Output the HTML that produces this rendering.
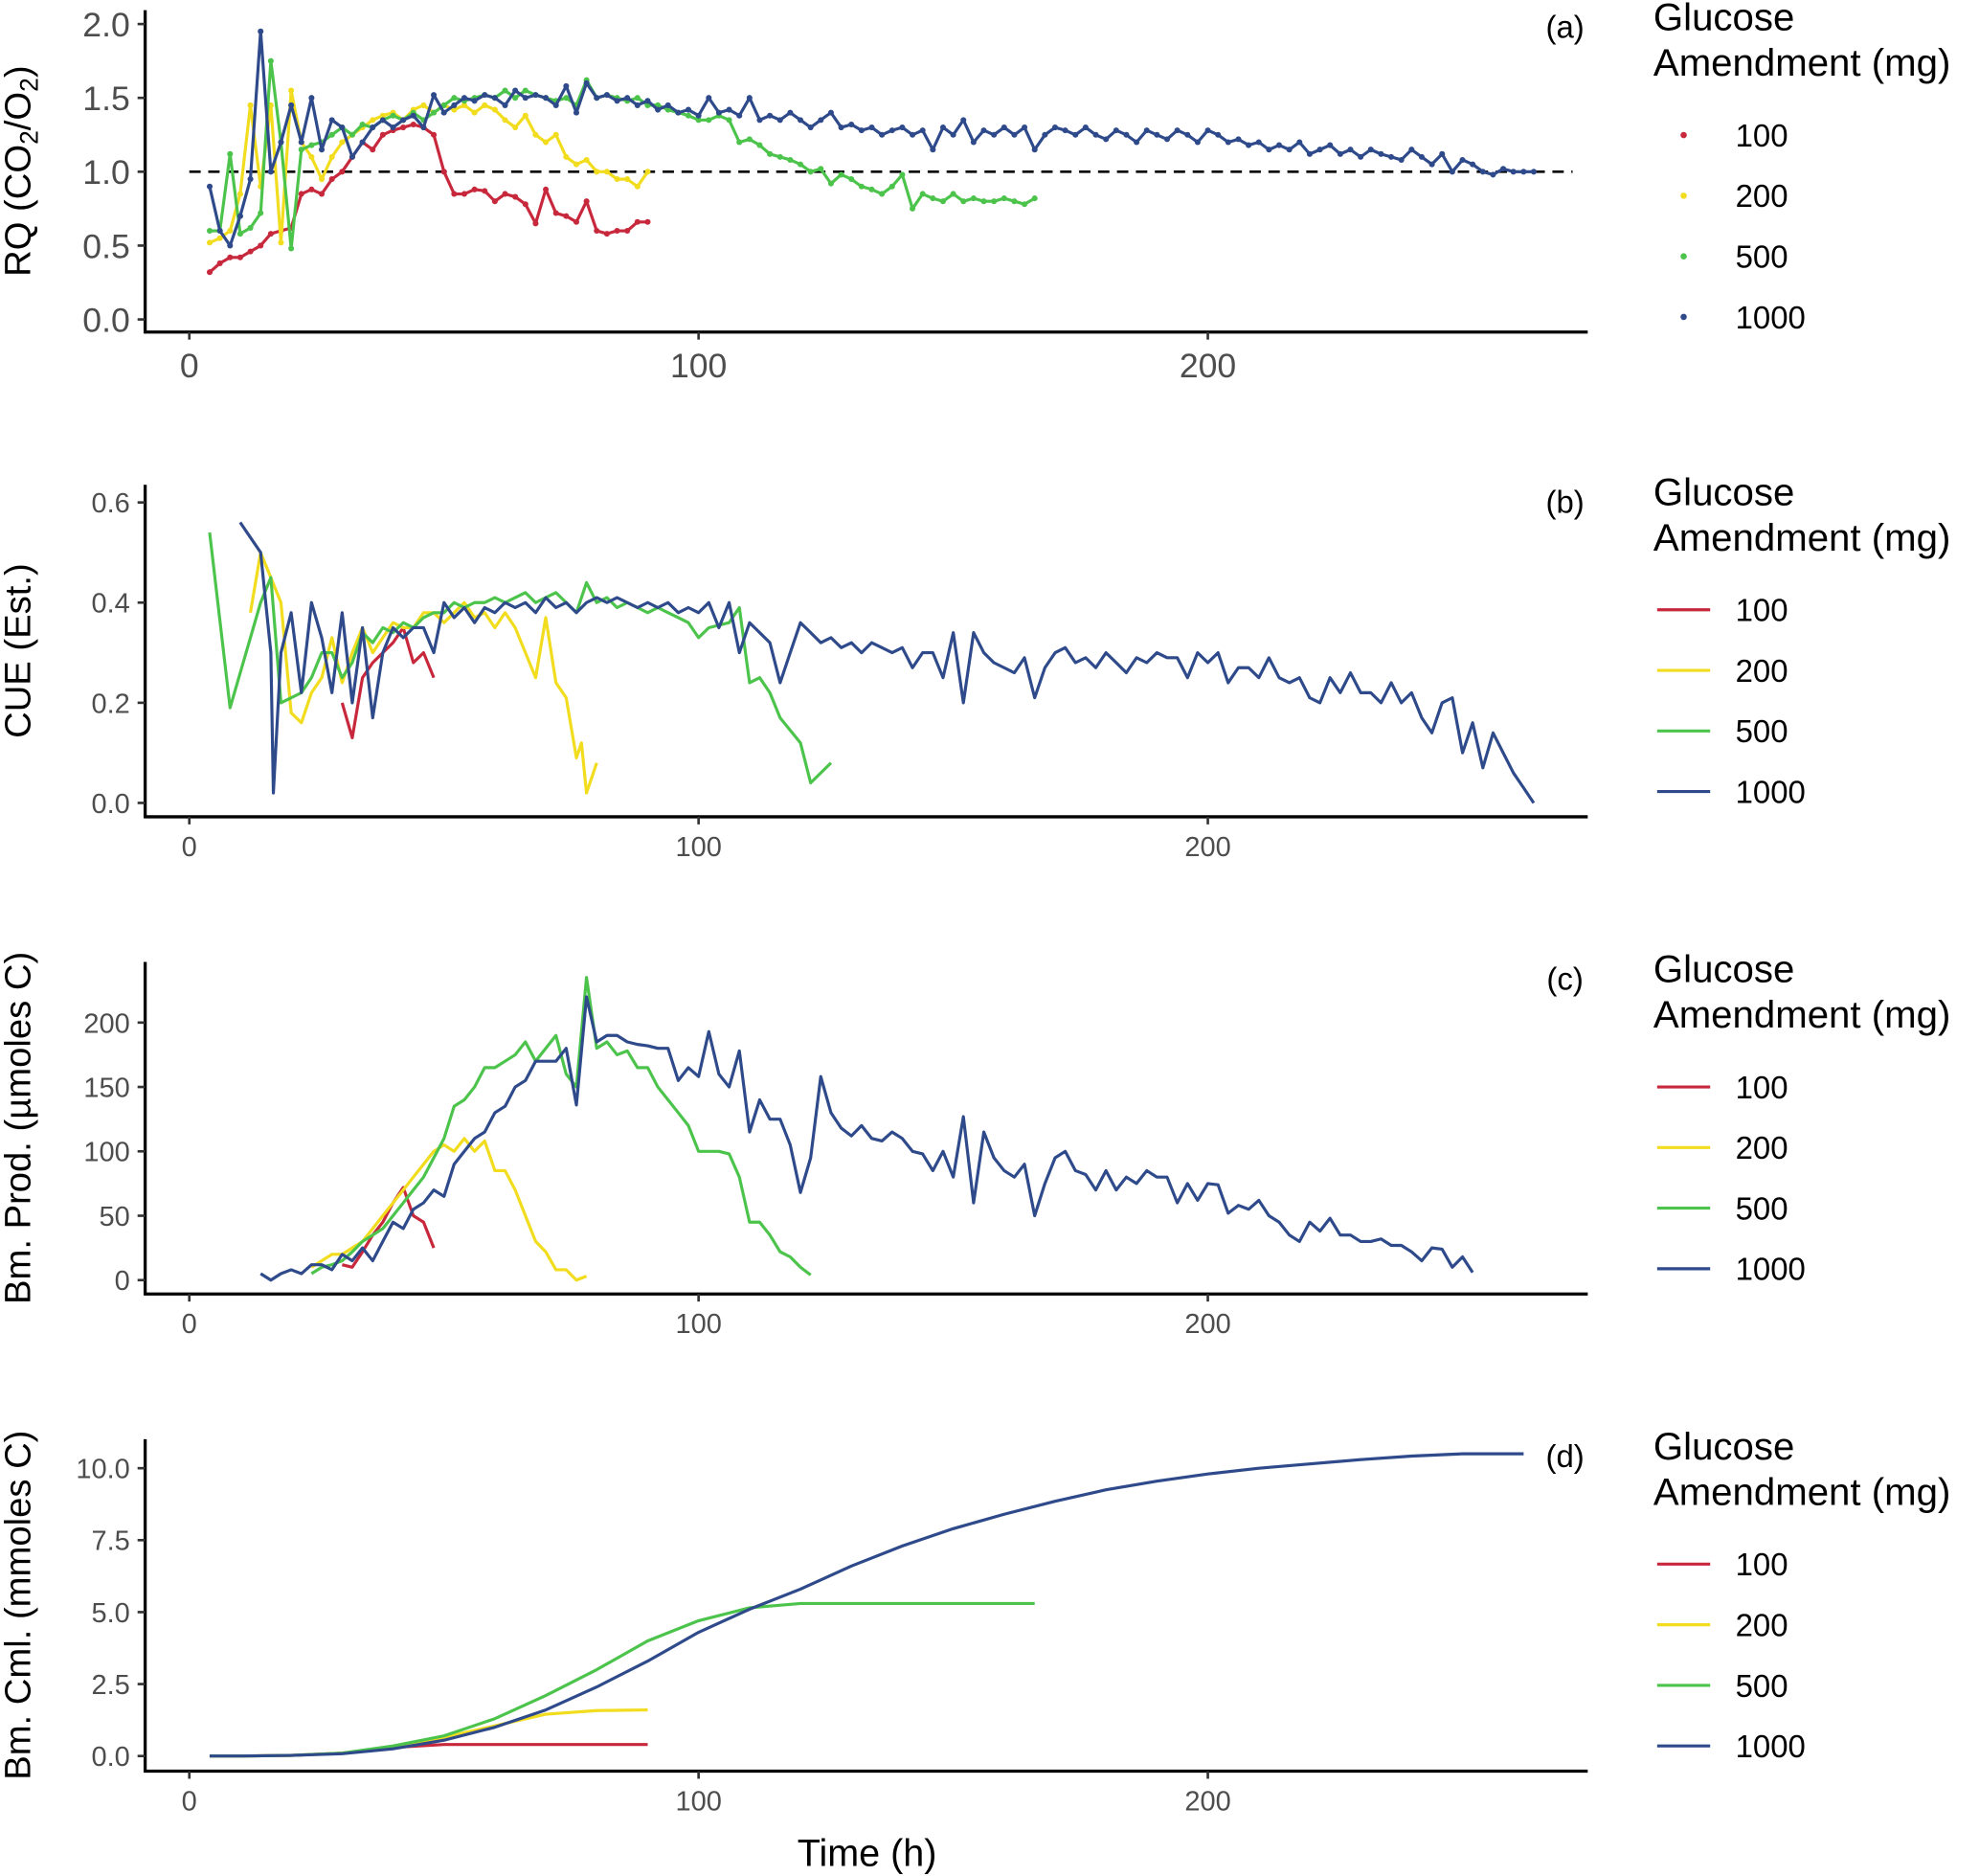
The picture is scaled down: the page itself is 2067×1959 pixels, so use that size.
<!DOCTYPE html>
<html><head><meta charset="utf-8"><style>
html,body{margin:0;padding:0;background:#fff}
svg{display:block}
text{font-family:"Liberation Sans",Arial,sans-serif;fill:#000}
.tk{fill:#4d4d4d}
</style></head><body>
<svg id="chart" width="2067" height="1959" viewBox="0 0 1568 1486" xmlns="http://www.w3.org/2000/svg"></svg>
<script>
// ---------- DATA ----------
const seriesNames = ["100","200","500","1000"];
const colors = ["#C8283C","#F2DC1E","#4CC44C","#2E4A8B"];
// Panel (a) RQ
const aTime100 = [4,6,8,10,12,14,16,18,20,22,24,26,28,30,32,34,36,38,40,42,44,46,48,50,52,54,56,58,60,62,64,66,68,70,72,74,76,78,80,82,84,86,88,90];
const aRQ100 = [0.32,0.38,0.42,0.42,0.46,0.5,0.58,0.6,0.62,0.85,0.88,0.85,0.95,1.0,1.1,1.2,1.15,1.25,1.28,1.3,1.32,1.3,1.25,1.0,0.85,0.85,0.88,0.87,0.8,0.85,0.83,0.78,0.65,0.88,0.72,0.7,0.66,0.8,0.6,0.58,0.6,0.6,0.66,0.66];
const aTime200 = aTime100;
const aRQ200 = [0.52,0.55,0.6,0.85,1.45,0.9,1.45,0.52,1.55,1.2,1.1,0.95,1.1,1.2,1.25,1.3,1.35,1.38,1.4,1.35,1.42,1.45,1.4,1.45,1.42,1.45,1.4,1.45,1.42,1.35,1.3,1.38,1.25,1.2,1.25,1.1,1.05,1.08,1.0,1.0,0.95,0.95,0.9,1.0];
const aTime500 = Array.from({length:82},(_, i)=>4+2*i);
const aRQ500 = [0.6,0.6,1.12,0.58,0.62,0.72,1.75,1.2,0.48,1.15,1.18,1.2,1.25,1.3,1.25,1.32,1.3,1.35,1.38,1.35,1.4,1.35,1.4,1.45,1.5,1.48,1.5,1.52,1.5,1.55,1.5,1.55,1.52,1.5,1.48,1.5,1.45,1.62,1.5,1.52,1.5,1.48,1.5,1.45,1.45,1.42,1.4,1.38,1.35,1.35,1.38,1.35,1.2,1.22,1.18,1.12,1.1,1.08,1.05,1.0,1.02,0.92,0.98,0.95,0.9,0.88,0.85,0.9,0.98,0.75,0.85,0.82,0.8,0.85,0.8,0.82,0.8,0.8,0.82,0.8,0.78,0.82];
const aTime1000 = Array.from({length:131},(_, i)=>4+2*i);
const aRQ1000 = [0.9,0.6,0.5,0.7,0.95,1.95,1.0,1.2,1.45,1.2,1.5,1.15,1.35,1.3,1.1,1.2,1.3,1.35,1.3,
1.35,1.38,1.3,1.52,1.4,1.45,1.5,1.48,1.52,1.5,1.45,1.55,1.5,1.52,1.5,1.45,1.58,1.4,1.6,1.5,
1.52,1.48,1.5,1.45,1.48,1.42,1.45,1.4,1.42,1.38,1.5,1.4,1.42,1.38,1.5,1.35,1.38,1.35,1.4,1.35,
1.3,1.35,1.4,1.3,1.32,1.28,1.3,1.25,1.28,1.3,1.25,1.28,1.15,1.3,1.25,1.35,1.2,1.28,1.25,1.3,
1.25,1.3,1.15,1.25,1.3,1.28,1.25,1.3,1.25,1.22,1.28,1.25,1.2,1.28,1.25,1.22,1.28,1.25,1.2,1.28,
1.25,1.2,1.22,1.18,1.2,1.15,1.18,1.15,1.2,1.12,1.15,1.18,1.12,1.15,1.1,1.15,1.12,1.1,1.08,1.15,
1.1,1.05,1.12,1.0,1.08,1.05,1.0,0.98,1.02,1.0,1.0,1.0];
// Panel (b) CUE
const bTime100 = [30,32,34,36,38,40,42,44,46,48];
const bCUE100 = [0.2,0.13,0.25,0.28,0.3,0.32,0.35,0.28,0.3,0.25];
const bTime200 = [12,14,16,18,20,22,24,26,28,30,32,34,36,38,40,42,44,46,48,50,52,54,56,58,60,62,64,66,68,70,72,74,76,77,78,80];
const bCUE200 = [0.38,0.5,0.45,0.4,0.18,0.16,0.22,0.25,0.33,0.24,0.3,0.35,0.3,0.33,0.36,0.35,0.35,0.38,0.38,0.36,0.38,0.4,0.37,0.38,0.35,0.38,0.35,0.3,0.25,0.37,0.24,0.21,0.09,0.12,0.02,0.08];
const bTime500 = [4,8,14,16,18,22,24,26,28,30,32,34,36,38,40,42,44,46,48,50,52,54,56,58,60,62,64,66,68,70,72,74,76,78,80,82,84,86,88,90,92,94,96,98,100,102,106,108,110,112,114,116,120,122,126];
const bCUE500 = [0.54,0.19,0.4,0.45,0.2,0.22,0.25,0.3,0.3,0.25,0.28,0.34,0.32,0.35,0.34,0.36,0.35,0.37,0.38,0.38,0.4,0.39,0.4,0.4,0.41,0.4,0.41,0.42,0.4,0.41,0.42,0.4,0.38,0.44,0.4,0.41,0.39,0.4,0.39,0.38,0.39,0.38,0.37,0.36,0.33,0.35,0.36,0.39,0.24,0.25,0.22,0.17,0.12,0.04,0.08];
const bTime1000 = [10,14,16,16.5,18,20,22,24,26,28,30,32,34,36,38,40,42,44,46,48,50,52,54,56,58,60,62,64,66,68,70,72,74,76,78,80,82,84,86,88,90,92,94,96,98,100,102,104,106,108,110,112,114,116,118,120,122,124,126,128,130,132,134,136,138,140,142,144,146,148,150,152,154,156,158,160,162,164,166,168,170,172,174,176,178,180,182,184,186,188,190,192,194,196,198,200,202,204,206,208,210,212,214,216,218,220,222,224,226,228,230,232,234,236,238,240,242,244,246,248,250,252,254,256,258,260,262,264];
const bCUE1000 = [0.56,0.5,0.3,0.02,0.3,0.38,0.22,0.4,0.33,0.22,0.38,0.2,0.35,0.17,0.3,0.35,0.33,0.35,0.35,0.3,0.4,0.37,0.39,0.36,0.39,0.38,0.4,0.39,0.4,0.38,0.41,0.39,0.4,0.38,0.4,0.41,0.4,0.41,0.4,0.39,0.4,0.39,0.4,0.38,0.39,0.38,0.4,0.35,0.4,0.3,0.36,0.34,0.32,0.24,0.3,0.36,0.34,0.32,0.33,0.31,0.32,0.3,0.32,0.31,0.3,0.31,0.27,0.3,0.3,0.25,0.34,0.2,0.34,0.3,0.28,0.27,0.26,0.29,0.21,0.27,0.3,0.31,0.28,0.29,0.27,0.3,0.28,0.26,0.29,0.28,0.3,0.29,0.29,0.25,0.3,0.28,0.3,0.24,0.27,0.27,0.25,0.29,0.25,0.24,0.25,0.21,0.2,0.25,0.22,0.26,0.22,0.22,0.2,0.24,0.2,0.22,0.17,0.14,0.2,0.21,0.1,0.16,0.07,0.14,0.1,0.06,0.03,0.0];
// Panel (c) biomass production
const cTime100 = [30,32,34,36,38,40,42,44,46,48];
const cBM100 = [12,10,22,35,45,60,72,50,45,25];
const cTime200 = [24,26,28,30,32,34,36,38,40,42,44,46,48,50,52,54,56,58,60,62,64,66,68,70,72,74,76,78];
const cBM200 = [10,15,20,20,25,30,40,50,60,70,80,90,100,105,100,110,100,108,85,85,70,50,30,22,8,8,0,3];
const cTime500 = [24,26,28,30,32,34,36,38,40,42,44,46,48,50,52,54,56,58,60,62,64,66,68,70,72,74,76,78,80,82,84,86,88,90,92,94,96,98,100,102,104,106,108,110,112,114,116,118,120,122];
const cBM500 = [5,10,12,15,22,30,35,40,50,60,70,80,95,110,135,140,150,165,165,170,175,185,170,180,190,160,150,235,180,185,175,178,165,165,150,140,130,120,100,100,100,98,80,45,45,35,22,18,10,4];
const cTime1000 = [14,16,18,20,22,24,26,28,30,32,34,36,38,40,42,44,46,48,50,52,54,56,58,60,62,64,66,68,70,72,74,76,78,80,82,84,86,88,90,92,94,96,98,100,102,104,106,108,110,112,114,116,118,120,122,124,126,128,130,132,134,136,138,140,142,144,146,148,150,152,154,156,158,160,162,164,166,168,170,172,174,176,178,180,182,184,186,188,190,192,194,196,198,200,202,204,206,208,210,212,214,216,218,220,222,224,226,228,230,232,234,236,238,240,242,244,246,248,250,252];
const cBM1000 = [5,0,5,8,5,12,12,8,20,15,25,15,30,45,40,55,60,70,65,90,100,110,115,130,135,150,155,170,170,170,180,136,220,185,190,190,185,183,182,180,180,155,165,158,193,160,150,178,115,140,125,125,105,68,95,158,130,118,112,120,110,108,115,110,100,98,85,100,80,127,60,115,95,85,80,90,50,75,95,100,85,82,70,85,70,80,75,85,80,80,60,75,62,75,74,52,58,55,62,50,45,35,30,45,38,48,35,35,30,30,32,27,27,22,15,25,24,10,18,6,14];
// Panel (d) cumulative biomass
const dTime100 = [4,10,20,30,40,50,60,70,80,90];
const dCml100 = [0,0,0.02,0.1,0.3,0.4,0.4,0.4,0.4,0.4];
const dTime200 = [4,10,20,30,40,50,60,70,80,90];
const dCml200 = [0,0,0.02,0.1,0.3,0.65,1.05,1.45,1.58,1.6];
const dTime500 = [4,10,20,30,40,50,60,70,80,90,100,110,120,130,140,150,166];
const dCml500 = [0,0,0.02,0.1,0.35,0.7,1.3,2.1,3.0,4.0,4.7,5.15,5.3,5.3,5.3,5.3,5.3];
const dTime1000 = [4,10,20,30,40,50,60,70,80,90,100,110,120,130,140,150,160,170,180,190,200,210,220,230,240,250,262];
const dCml1000 = [0,0,0.02,0.08,0.25,0.55,1.0,1.6,2.4,3.3,4.3,5.1,5.8,6.6,7.3,7.9,8.4,8.85,9.25,9.55,9.8,10.0,10.15,10.3,10.42,10.5,10.5];
const xTicks = [0,100,200];
const aTicks = [0,0.5,1.0,1.5,2.0];
const bTicks = [0,0.2,0.4,0.6];
const cTicks = [0,50,100,150,200];
const dTicks = [0,2.5,5.0,7.5,10.0];

// ---------- DRAW ----------
const NS="http://www.w3.org/2000/svg";
const svg=document.getElementById('chart');
function el(tag,attrs,parent){const e=document.createElementNS(NS,tag);for(const k in attrs)e.setAttribute(k,attrs[k]);(parent||svg).appendChild(e);return e;}
const xScale=t=>150+t*4.035;
const panels=[
 {id:'a',y0:253,k:117,top:8,bottom:263,ticks:aTicks,fmt:v=>v.toFixed(1),tick:27,xtick:27,label:'(a)',
  times:[aTime100,aTime200,aTime500,aTime1000],vals:[aRQ100,aRQ200,aRQ500,aRQ1000],points:true},
 {id:'b',y0:636,k:396.7,top:384,bottom:647,ticks:bTicks,fmt:v=>v.toFixed(1),tick:22,xtick:22,label:'(b)',title:'CUE (Est.)',
  times:[bTime100,bTime200,bTime500,bTime1000],vals:[bCUE100,bCUE200,bCUE500,bCUE1000]},
 {id:'c',y0:1014,k:1.02,top:762,bottom:1025,ticks:cTicks,fmt:v=>String(v),tick:22,xtick:22,label:'(c)',title:'Bm. Prod. (µmoles C)',
  times:[cTime100,cTime200,cTime500,cTime1000],vals:[cBM100,cBM200,cBM500,cBM1000]},
 {id:'d',y0:1391,k:22.8,top:1140,bottom:1403,ticks:dTicks,fmt:v=>v.toFixed(1),tick:22,xtick:22,label:'(d)',title:'Bm. Cml. (mmoles C)',
  times:[dTime100,dTime200,dTime500,dTime1000],vals:[dCml100,dCml200,dCml500,dCml1000]}
];
panels.forEach((p,pi)=>{
 const g=el('g',{});
 
 
 const yS=v=>p.y0-v*p.k;
 if(p.id==='a'){
  const dl=el('line',{x1:150,x2:1246,y1:yS(1),y2:yS(1),stroke:'#000','stroke-width':2,'stroke-dasharray':'9,6'},g);
  
  
 }
 p.times.forEach((ts,si)=>{
  const pts=ts.map((t,i)=>xScale(t).toFixed(1)+','+yS(p.vals[si][i]).toFixed(1)).join(' ');
  const pl=el('polyline',{points:pts,fill:'none',stroke:colors[si],'stroke-width':2.4,'stroke-linejoin':'round'},g);
  
  
  if(p.points){
   ts.forEach((t,i)=>{
    const c=el('circle',{cx:xScale(t),cy:yS(p.vals[si][i]),r:2.3,fill:colors[si]},g);
    
    
   });
  }
 });
 const ya=el('line',{x1:115,x2:115,y1:p.top,y2:p.bottom+1,stroke:'#000','stroke-width':2.5},g);
 
 
 const xa=el('line',{x1:114,x2:1258,y1:p.bottom,y2:p.bottom,stroke:'#000','stroke-width':2.5},g);
 
 
 p.ticks.forEach(v=>{
  el('line',{x1:109,x2:115,y1:yS(v),y2:yS(v),stroke:'#333','stroke-width':2},g);
  const t=el('text',{x:103,y:yS(v)+p.tick*0.36,'text-anchor':'end','font-size':p.tick,class:'tk'},g);
  t.textContent=p.fmt(v);
  
  
 });
 xTicks.forEach(v=>{
  el('line',{x1:xScale(v),x2:xScale(v),y1:p.bottom,y2:p.bottom+6,stroke:'#333','stroke-width':2},g);
  const t=el('text',{x:xScale(v),y:p.bottom+p.xtick+9,'text-anchor':'middle','font-size':p.xtick,class:'tk'},g);
  t.textContent=v;
  
  
 });
 const pl=el('text',{x:1240,y:p.top+22,'text-anchor':'middle','font-size':25},g);
 pl.textContent=p.label;
 
 
 const cy=(p.top+p.bottom)/2;
 const yt=el('text',{x:0,y:0,'text-anchor':'middle','font-size':29,transform:`translate(24,${cy}) rotate(-90)`},g);
 
 
 if(p.id==='a'){
  yt.innerHTML='RQ (CO<tspan font-size="20" dy="6">2</tspan><tspan dy="-6">/O</tspan><tspan font-size="20" dy="6">2</tspan><tspan dy="-6">)</tspan>';
 } else yt.textContent=p.title;
 const lg=el('g',{},g);
 
 
 const t1=el('text',{x:1310,y:p.top+16,'font-size':30.5},lg);t1.textContent='Glucose';
 const t2=el('text',{x:1310,y:p.top+52,'font-size':30.5},lg);t2.textContent='Amendment (mg)';
 seriesNames.forEach((n,si)=>{
  const ey=p.top+99+si*48;
  const e=el('g',{},lg);
  
  
  if(p.points) el('circle',{cx:1334,cy:ey,r:2.5,fill:colors[si]},e);
  else el('line',{x1:1313,x2:1355,y1:ey,y2:ey,stroke:colors[si],'stroke-width':2.4},e);
  const lt=el('text',{x:1375,y:ey+9,'font-size':25},e);lt.textContent=n;
 });
});
const xt=el('text',{x:687,y:1478,'text-anchor':'middle','font-size':30});
xt.textContent='Time (h)';


</script>
</body></html>
